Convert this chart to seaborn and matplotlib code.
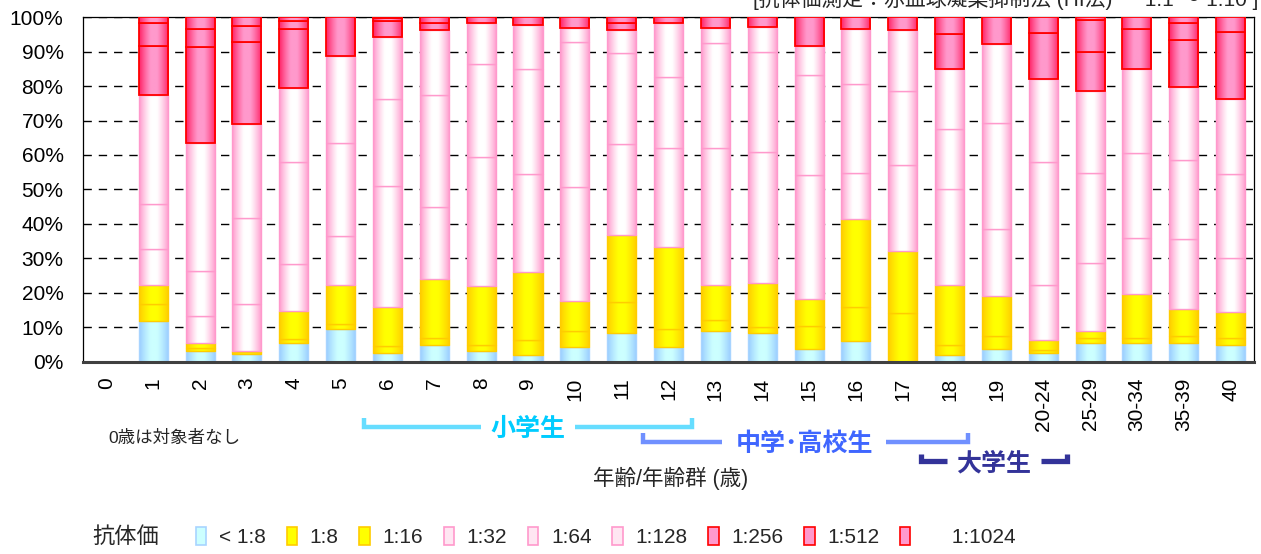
"""
Rubella HI antibody titer distribution by age — stacked percentage bars.
"""

import matplotlib
matplotlib.use("Agg")
import matplotlib.pyplot as plt
import matplotlib.colors as mcolors
from matplotlib.patches import Patch
from matplotlib.transforms import blended_transform_factory
import numpy as np
import pandas as pd
import seaborn as sns

# ── Theme ────────────────────────────────────────────────────────────

sns.set_theme(style="white")
plt.rcParams["font.family"] = ["Liberation Sans", "Noto Sans CJK JP"]

# ── Data (percent of each age group) ─────────────────────────────────

ages = ["0", "1", "2", "3", "4", "5", "6", "7", "8", "9", "10", "11", "12",
        "13", "14", "15", "16", "17", "18", "19",
        "20-24", "25-29", "30-34", "35-39", "40"]

titers = ["< 1:8", "1:8", "1:16", "1:32", "1:64", "1:128", "1:256", "1:512", "1:1024"]

lt8 = [0, 11.8, 3.1, 2.4, 5.4, 9.7, 2.5, 4.8, 3.1, 1.9, 4.3, 8.5, 4.4,
       8.9, 8.5, 3.9, 6.2, 0, 2.1, 3.7, 2.5, 5.4, 5.6, 5.4, 5.0]
t8 = [0, 5.0, 1.0, 0.4, 1.2, 1.3, 2.0, 2.2, 1.9, 4.6, 4.6, 8.9, 5.2,
      3.2, 1.5, 6.4, 9.8, 14.2, 2.7, 3.7, 1.1, 1.5, 1.4, 2.0, 2.0]
t16 = [0, 5.4, 1.4, 0.4, 8.1, 11.2, 11.3, 17.1, 16.9, 19.5, 8.7, 19.4, 23.6,
       10.3, 13.0, 8.1, 25.5, 17.9, 17.4, 11.7, 2.7, 2.2, 12.6, 8.0, 7.4]
t32 = [0, 10.6, 7.7, 13.6, 13.7, 14.3, 35.1, 20.7, 37.4, 28.5, 33.1, 26.3, 28.7,
       39.7, 37.9, 35.7, 13.3, 25.1, 27.8, 19.4, 16.0, 19.6, 16.4, 20.3, 15.6]
t64 = [0, 13.0, 13.1, 24.8, 29.6, 26.9, 25.4, 32.7, 27.1, 30.3, 42.0, 26.4, 20.7,
       30.4, 29.0, 29.2, 25.8, 21.4, 17.5, 30.7, 35.6, 26.0, 24.5, 22.9, 24.5]
t128 = [0, 31.5, 37.2, 27.3, 21.3, 25.2, 17.8, 18.8, 11.9, 12.9, 4.2, 6.8, 15.7,
        4.2, 7.2, 8.3, 16.0, 17.7, 17.3, 22.9, 24.2, 23.9, 24.3, 21.0, 21.7]
t256 = [0, 14.3, 27.7, 24.0, 17.2, 11.4, 4.8, 2.0, 1.7, 2.3, 3.1, 2.0, 1.7,
        3.3, 2.9, 8.4, 3.4, 3.7, 10.3, 7.9, 13.3, 11.2, 11.7, 13.7, 19.4]
t512 = [0, 6.7, 5.4, 4.6, 2.3, 0, 0.8, 1.7, 0, 0, 0, 1.7, 0,
        0, 0, 0, 0, 0, 4.9, 0, 4.6, 9.2, 3.5, 5.0, 4.4]
t1024 = [0, 1.7, 3.4, 2.5, 1.2, 0, 0.3, 0, 0, 0, 0, 0, 0,
         0, 0, 0, 0, 0, 0, 0, 0, 1.0, 0, 1.7, 0]

series = [lt8, t8, t16, t32, t64, t128, t256, t512, t1024]

# (side colour, centre colour, outline colour) for the gradient fill
STYLE = {
    "< 1:8": ("#99ccff", "#ccffff", "#a8d4ff"),
    "1:8": ("#ffcc00", "#ffff00", "#ffcc00"),
    "1:16": ("#ffcc00", "#ffff00", "#ffcc00"),
    "1:32": ("#ff99cc", "#ffffff", "#ff99cc"),
    "1:64": ("#ff99cc", "#ffffff", "#ff99cc"),
    "1:128": ("#ff99cc", "#ffffff", "#ff99cc"),
    "1:256": ("#ff2266", "#ff99cc", "#ff0000"),
    "1:512": ("#ff2266", "#ff99cc", "#ff0000"),
    "1:1024": ("#ff2266", "#ff99cc", "#ff0000"),
}

df = pd.DataFrame(dict(zip(titers, series)))
df.insert(0, "age", ages)
tops = df[titers].cumsum(axis=1)
bottoms = tops - df[titers]


def gradient(side, centre, n=64):
    t = np.abs(np.linspace(-1, 1, n))
    w = np.clip((t - 0.2) / 0.8, 0, 1) ** 1.2
    s = np.array(mcolors.to_rgb(side))
    c = np.array(mcolors.to_rgb(centre))
    return (c[None, :] * (1 - w[:, None]) + s[None, :] * w[:, None])[None, :, :]


# ── Figure ───────────────────────────────────────────────────────────

fig = plt.figure(figsize=(12.61, 5.54), dpi=100)
ax = fig.add_axes([0.0658, 0.3466, 0.9287, 0.6227])

for k, name in enumerate(titers):
    side, centre, edge = STYLE[name]
    n0 = len(ax.patches)
    sns.barplot(data=df, x="age", y=name, order=ages, width=0.62,
                color=centre, edgecolor=edge, linewidth=1.3 if k >= 6 else 1.0,
                ax=ax)
    img = gradient(side, centre)
    for p, b, h in zip(ax.patches[n0:], bottoms[name].values, df[name].values):
        if h <= 0:
            p.set_visible(False)
            continue
        p.set_y(b)
        p.set_facecolor("none")
        p.set_zorder(2.5 + 2 * k)
        x0 = p.get_x()
        ax.imshow(img, extent=[x0, x0 + p.get_width(), b, b + h],
                  aspect="auto", interpolation="bilinear", zorder=2 + 2 * k)

ax.set_xlim(-0.5, len(ages) - 0.5)
ax.set_ylim(0, 100)
ax.set_yticks(range(0, 101, 10))
ax.set_yticklabels([f"{v}%" for v in range(0, 101, 10)])
ax.set_xlabel("")
ax.set_ylabel("")
ax.tick_params(axis="both", length=0, labelsize=15, colors="black")
ax.tick_params(axis="y", pad=14)
ax.tick_params(axis="x", pad=11, labelrotation=90)

ax.set_axisbelow(True)
ax.yaxis.grid(True, color="black", linewidth=1.0, linestyle=(0, (6, 5)))
for s in ["left", "top", "right"]:
    ax.spines[s].set_color("black")
    ax.spines[s].set_linewidth(0.9)
ax.spines["bottom"].set_color("#404040")
ax.spines["bottom"].set_linewidth(2.2)
ax.spines["bottom"].set_zorder(30)

# ── Annotations ──────────────────────────────────────────────────────

trans = blended_transform_factory(ax.transData, fig.transFigure)


def bracket(x0, x1, xc, gap, y_px, tick_px, label, line_color, text_color, lw=3.2):
    y = 1 - y_px / 554
    yt = 1 - (y_px - tick_px) / 554
    kw = dict(transform=trans, color=line_color, lw=lw, clip_on=False,
              solid_capstyle="butt", solid_joinstyle="miter")
    fig.add_artist(plt.Line2D([x0, x0, xc - gap], [yt, y, y], **kw))
    fig.add_artist(plt.Line2D([xc + gap, x1, x1], [y, y, yt], **kw))
    fig.text(xc, y - 2 / 554, label, transform=trans, ha="center", va="center",
             fontsize=18, fontweight="bold", color=text_color)


bracket(5.5, 12.5, 9.0, 1.0, 427, 9, "小学生", "#66ddff", "#00ccff")
bracket(11.45, 18.4, 14.9, 1.75, 442, 9, "中学･高校生", "#7090ff", "#3f66ff")
bracket(17.4, 20.5, 18.95, 1.0, 461, 7, "大学生", "#333399", "#333399", lw=3.8)

fig.text(108 / 1261, 1 - 438 / 554, "0歳は対象者なし", fontsize=12.6,
         ha="left", va="center")
fig.text(671 / 1261, 1 - 478 / 554, "年齢/年齢群 (歳)", fontsize=15.5,
         ha="center", va="center")
fig.text(1258 / 1261, 1 + 1 / 554,
         "[抗体価測定：赤血球凝集抑制法 (HI法) ・ 1:1 ～ 1:10 ]",
         fontsize=15, ha="right", va="center")

# ── Legend ───────────────────────────────────────────────────────────

fig.text(92 / 1261, 1 - 537 / 554, "抗体価", fontsize=16, ha="left", va="center")
handles = [Patch(facecolor=STYLE[t][1] if STYLE[t][1] != "#ffffff" else "#ffe6f2",
                 edgecolor=STYLE[t][2], linewidth=1.2) for t in titers]
labels = list(titers)
labels[-1] = "     1:1024"
fig.legend(handles, labels, loc="center left", bbox_to_anchor=(196 / 1261, 1 - 537 / 554),
           ncol=9, frameon=False, fontsize=15, handlelength=0.5, handleheight=1.0,
           handletextpad=0.6, columnspacing=1.0, borderaxespad=0, borderpad=0)

fig.savefig("out.png", dpi=100)
plt.close(fig)
